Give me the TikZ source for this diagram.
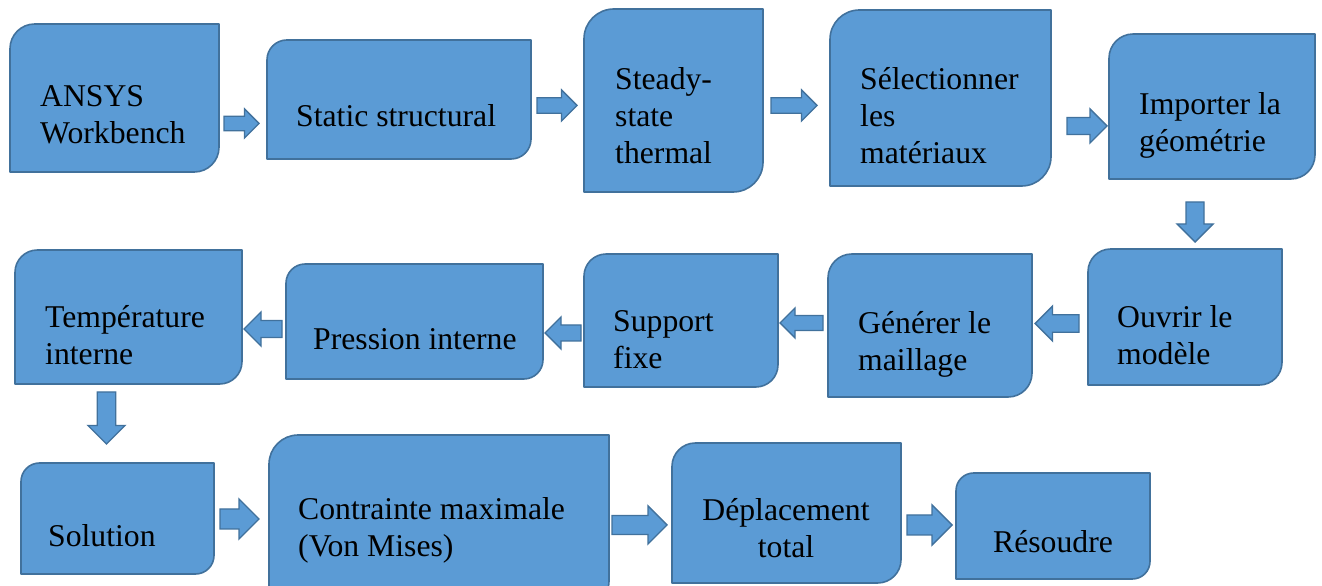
\documentclass[tikz,border=0pt]{standalone}
\usepackage{fontspec}
\setmainfont{Liberation Serif}
\usetikzlibrary{calc}

\definecolor{boxfill}{RGB}{91,155,213}
\definecolor{boxedge}{RGB}{65,113,156}

\tikzset{
  boxline/.style={draw=boxedge, fill=boxfill, line width=1.6pt, line join=round},
  arrowline/.style={draw=boxedge, fill=boxfill, line width=1.4pt, line join=miter},
  boxanchor/.style={inner sep=0pt, outer sep=0pt},
  boxtext/.style={inner sep=0pt, align=left, anchor=base west, font=\fontsize{31.7}{37}\selectfont},
}

% box with two rounded corners (top left, bottom right), given in picture pixels
\newcommand\flowbox[5]{%
  \pgfmathsetmacro\bxa{#2}\pgfmathsetmacro\bxb{#4}%
  \pgfmathsetmacro\bya{586-#5}\pgfmathsetmacro\byb{586-#3}%
  \pgfmathsetmacro\brad{0.1667*min(#4-#2,#5-#3)}%
  \pgfmathsetmacro\bw{#4-#2}\pgfmathsetmacro\bh{#5-#3}%
  \draw[boxline] (\bxa,\bya) -- (\bxa,\byb-\brad)
    arc[start angle=180, end angle=90, radius=\brad] -- (\bxb,\byb)
    -- (\bxb,\bya+\brad) arc[start angle=0, end angle=-90, radius=\brad] -- cycle;
  \node[boxanchor, minimum width=\bw pt, minimum height=\bh pt] (#1)
    at ({(\bxa+\bxb)/2},{(\bya+\byb)/2}) {};}

% block arrow from tail #1 to tip #2, full width #3
\newcommand\blockarrow[3]{%
  \draw[arrowline] let \p1=(#1), \p2=(#2),
      \n1={atan2(\y2-\y1,\x2-\x1)}, \n2={veclen(\x2-\x1,\y2-\y1)} in
    ($(\p1)+(\n1+90:#3/4)$) -- ($(\p1)+(\n1:\n2-#3/2)+(\n1+90:#3/4)$)
    -- ($(\p1)+(\n1:\n2-#3/2)+(\n1+90:#3/2)$) -- (\p2)
    -- ($(\p1)+(\n1:\n2-#3/2)+(\n1-90:#3/2)$) -- ($(\p1)+(\n1:\n2-#3/2)+(\n1-90:#3/4)$)
    -- ($(\p1)+(\n1-90:#3/4)$) -- cycle;}

\begin{document}
\begin{tikzpicture}[x=1pt, y=1pt]
    \useasboundingbox (0,0) rectangle (1322,586);
    \clip (0,0) rectangle (1322,586);

    % first row (label positions: baseline of the last line)
    \flowbox{ansys}{10}{24}{219}{172}
    \node[boxtext] (ansyslbl) at (40,586-144) {ANSYS\\Workbench};
    \flowbox{static}{267}{40}{531}{159}
    \node[boxtext] (staticlbl) at (296,586-127) {Static structural};
    \flowbox{steady}{584}{9}{763}{192}
    \node[boxtext] (steadylbl) at (615,586-164) {Steady-\\state\\thermal};
    \flowbox{select}{830}{10}{1051}{186}
    \node[boxtext] (selectlbl) at (860,586-164) {Sélectionner\\les\\matériaux};
    \flowbox{import}{1109}{34}{1315}{179}
    \node[boxtext] (importlbl) at (1139,586-152) {Importer la\\géométrie};

    % second row
    \flowbox{ouvrir}{1088}{249}{1282}{385}
    \node[boxtext] (ouvrirlbl) at (1117,586-365) {Ouvrir le\\modèle};
    \flowbox{generer}{828}{254}{1032}{397}
    \node[boxtext] (genererlbl) at (858,586-371) {Générer le\\maillage};
    \flowbox{support}{584}{254}{778}{387}
    \node[boxtext] (supportlbl) at (613,586-369) {Support\\fixe};
    \flowbox{pression}{286}{264}{543}{379}
    \node[boxtext] (pressionlbl) at (313,586-350) {Pression interne};
    \flowbox{temp}{15}{250}{242}{384}
    \node[boxtext] (templbl) at (45,586-365) {Température\\interne};

    % third row
    \flowbox{solution}{21}{463}{214}{574}
    \node[boxtext] (solutionlbl) at (48,586-547) {Solution};
    \flowbox{contrainte}{269}{435}{609}{610}
    \node[boxtext] (contraintelbl) at (298,586-557) {Contrainte maximale\\(Von Mises)};
    \flowbox{deplacement}{672}{443}{901}{583}
    \node[boxtext, align=center, anchor=base] (deplacementlbl) at (786,586-558) {Déplacement\\total};
    \flowbox{resoudre}{956}{473}{1150}{579}
    \node[boxtext, anchor=base] (resoudrelbl) at (1053,586-553) {Résoudre};

    % arrows
    \blockarrow{$(ansys.east)+(5,-25.5)$}{$(static.west)+(-8,-24)$}{29}
    \blockarrow{$(static.east)+(6,-6)$}{$(steady.west)+(-7,-5)$}{31}
    \blockarrow{$(steady.east)+(8,-5)$}{$(select.west)+(-13,-7.5)$}{31}
    \blockarrow{$(select.east)+(16,-28)$}{$(import.west)+(-2,-19.5)$}{34}
    \blockarrow{$(import.south)+(-17,-23)$}{$(ouvrir.north)+(10,7)$}{36}
    \blockarrow{$(ouvrir.west)+(-9,-6.5)$}{$(generer.east)+(3,2)$}{35}
    \blockarrow{$(generer.west)+(-5,2.5)$}{$(support.east)+(2,-2.5)$}{30}
    \blockarrow{$(support.west)+(-3,-12.5)$}{$(pression.east)+(2,-11.5)$}{32}
    \blockarrow{$(pression.west)+(-4,-7.5)$}{$(temp.east)+(2,-12)$}{34}
    \blockarrow{$(temp.south)+(-22,-8)$}{$(solution.north)+(-11,19)$}{37}
    \blockarrow{$(solution.east)+(6,-0.5)$}{$(contrainte.west)+(-10,3.5)$}{40}
    \blockarrow{$(contrainte.east)+(3,-2.5)$}{$(deplacement.west)+(-5,-12)$}{38}
    \blockarrow{$(deplacement.east)+(6,-12)$}{$(resoudre.west)+(-4,1)$}{40}
\end{tikzpicture}
\end{document}
